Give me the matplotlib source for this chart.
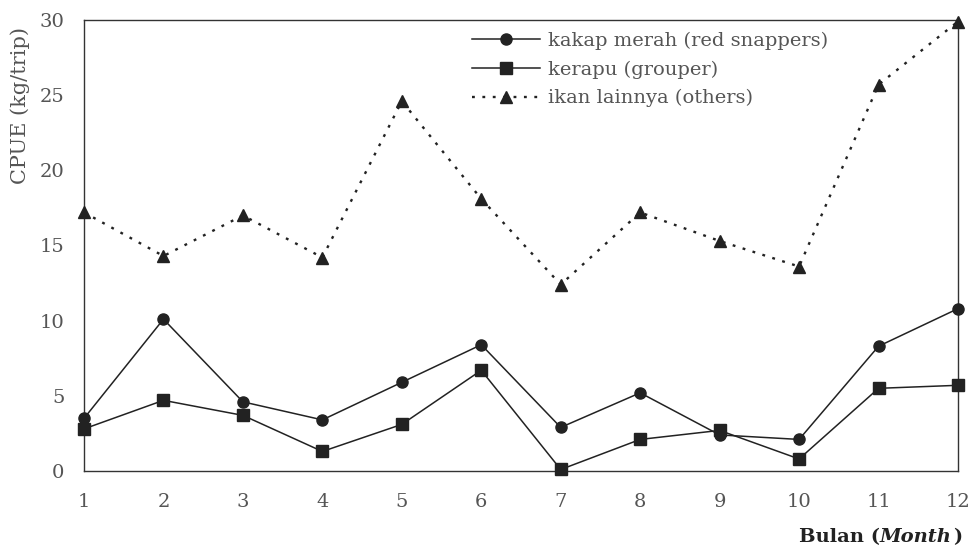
import matplotlib
matplotlib.use("Agg")
import matplotlib.pyplot as plt

months = list(range(1, 13))
red_snappers = [3.5, 10.1, 4.6, 3.4, 5.9, 8.4, 2.9, 5.2, 2.4, 2.1, 8.3, 10.8]
grouper = [2.8, 4.7, 3.7, 1.3, 3.1, 6.7, 0.1, 2.1, 2.7, 0.8, 5.5, 5.7]
others = [17.2, 14.3, 17.0, 14.2, 24.6, 18.1, 12.4, 17.2, 15.3, 13.6, 25.7, 29.9]
labels = ["kakap merah (red snappers)", "kerapu (grouper)", "ikan lainnya (others)"]
yticks = [0, 5, 10, 15, 20, 25, 30]

plt.rcParams['font.family'] = ['DejaVu Serif']
txt = '#555555'
ink = '#222222'

fig = plt.figure(figsize=(9.71, 5.47), dpi=100)
ax = fig.add_axes([84/971, 76/547, (958-84)/971, (471-20)/547])

ax.plot(months, red_snappers, '-', color=ink, lw=1.1, marker='o', ms=8,
        mfc=ink, mec=ink, clip_on=False, label=labels[0], zorder=3)
ax.plot(months, grouper, '-', color=ink, lw=1.1, marker='s', ms=8,
        mfc=ink, mec=ink, clip_on=False, label=labels[1], zorder=3)
ax.plot(months, others, color=ink, lw=1.7, ls=(0, (1.2, 3.2)), marker='^', ms=9,
        mfc=ink, mec=ink, clip_on=False, label=labels[2], zorder=3)

ax.set_xlim(1, 12)
ax.set_ylim(0, 30)
ax.set_xticks(months)
ax.set_yticks(yticks)
ax.tick_params(length=0, labelsize=14, labelcolor=txt)
ax.tick_params(axis='x', pad=16)
ax.tick_params(axis='y', pad=14)
for s in ax.spines.values():
    s.set_color('#333333')
    s.set_linewidth(1.0)

leg = ax.legend(loc='upper left', bbox_to_anchor=((458-84)/874, 1.005), frameon=False,
                fontsize=14, handlelength=3.5, handletextpad=0.45, labelspacing=0.55,
                borderaxespad=0.3, labelcolor=txt)

fig.text(20/971, 1 - 105/547, "CPUE (kg/trip)", rotation=90, ha='center', va='center',
         fontsize=15, color=txt)

# x-axis label: "Bulan (" bold, "Month" bold italic, ")" bold, right-aligned at x=958
t3 = fig.text(962/971, 1 - 537/547, ")", ha='right', va='center',
              fontsize=14, color=ink, fontweight='bold')
t2 = fig.text(0, 0, "Month", ha='right', va='center', fontsize=14, color=ink,
              fontweight='bold', fontstyle='italic')
t1 = fig.text(0, 0, "Bulan (", ha='right', va='center', fontsize=14, color=ink,
              fontweight='bold')
fig.canvas.draw()
r = fig.canvas.get_renderer()
bb3 = t3.get_window_extent(r)
t2.set_position((bb3.x0 / fig.bbox.width - 1/971, 1 - 537/547))
fig.canvas.draw()
bb2 = t2.get_window_extent(r)
t1.set_position((bb2.x0 / fig.bbox.width, 1 - 537/547))

fig.savefig("out.png", dpi=100)
